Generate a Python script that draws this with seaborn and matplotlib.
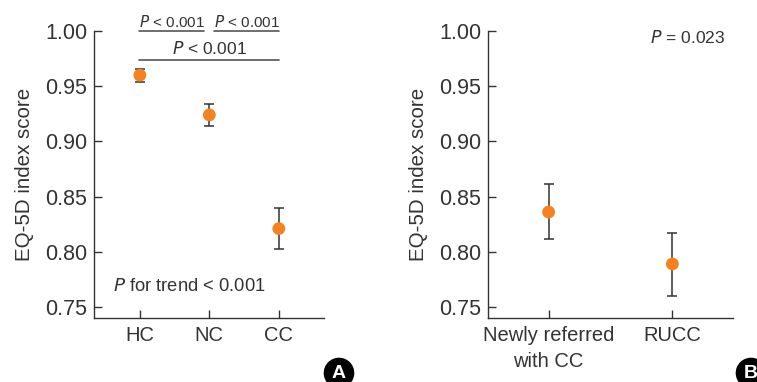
import numpy as np
import pandas as pd
import matplotlib
matplotlib.use("Agg")
import matplotlib.pyplot as plt
import seaborn as sns

# Panel A: EQ-5D by group
groups_a = ["HC", "NC", "CC"]
mean_a = [0.960, 0.924, 0.821]
low_a = [0.954, 0.914, 0.8025]
high_a = [0.966, 0.934, 0.840]

# Panel B: newly referred vs RUCC
groups_b = ["Newly referred\nwith CC", "RUCC"]
mean_b = [0.836, 0.789]
low_b = [0.812, 0.760]
high_b = [0.861, 0.817]

orange = "#F5821F"
dark = "#333333"

sns.set_style("ticks")
plt.rcParams["font.family"] = ["Liberation Sans", "DejaVu Sans"]

fig = plt.figure(figsize=(7.57, 3.82), dpi=100)
ax_a = fig.add_axes([94 / 757, 1 - 318 / 382, (324 - 94) / 757, (318 - 31) / 382])
ax_b = fig.add_axes([488 / 757, 1 - 318 / 382, (733 - 488) / 757, (318 - 31) / 382])


def draw_panel(ax, groups, means, lows, highs):
    df = pd.DataFrame({"group": groups, "mean": means, "low": lows, "high": highs})
    yerr = [df["mean"] - df["low"], df["high"] - df["mean"]]
    ax.errorbar(df["group"], df["mean"], yerr=yerr, fmt="none", ecolor=dark,
                elinewidth=1.1, capsize=3.5, capthick=1.1, zorder=2)
    sns.scatterplot(data=df, x="group", y="mean", ax=ax, color=orange, s=85,
                    edgecolor="none", zorder=3, legend=False)
    ax.set_ylim(0.74, 1.0)
    ax.set_yticks([0.75, 0.80, 0.85, 0.90, 0.95, 1.00])
    ax.set_yticklabels(["0.75", "0.80", "0.85", "0.90", "0.95", "1.00"])
    ax.set_xlabel("")
    ax.set_ylabel("EQ-5D index score", fontsize=14.8, color=dark, labelpad=8)
    ax.tick_params(axis="both", direction="in", length=5.5, width=1, colors=dark,
                   labelcolor=dark)
    ax.tick_params(axis="y", pad=5, labelsize=15.5)
    ax.tick_params(axis="x", pad=6, labelsize=14.5)
    sns.despine(ax=ax)
    for s in ["left", "bottom"]:
        ax.spines[s].set_color(dark)
        ax.spines[s].set_linewidth(1)


draw_panel(ax_a, groups_a, mean_a, low_a, high_a)
ax_a.set_xlim(-0.66, 2.65)
draw_panel(ax_b, groups_b, mean_b, low_b, high_b)
ax_b.set_xlim(-0.49, 1.49)
for lab in ax_b.get_xticklabels():
    lab.set_linespacing(1.45)

# significance brackets in panel A
line_c = "#555555"
ann = dict(color=dark, ha="center", clip_on=False)
ax_a.plot([-0.01, 0.93], [1.0, 1.0], color=line_c, lw=1.2, clip_on=False)
ax_a.plot([1.07, 2.0], [1.0, 1.0], color=line_c, lw=1.2, clip_on=False)
ax_a.plot([-0.01, 2.0], [0.9737, 0.9737], color=line_c, lw=1.2, clip_on=False)
ax_a.text(0.46, 1.004, r"$\it{P}$ < 0.001", fontsize=11, va="baseline", **ann)
ax_a.text(1.535, 1.004, r"$\it{P}$ < 0.001", fontsize=11, va="baseline", **ann)
ax_a.text(1.0, 0.979, r"$\it{P}$ < 0.001", fontsize=12.5, va="baseline", **ann)
ax_a.text(-0.39, 0.7648, r"$\it{P}$ for trend < 0.001", fontsize=13.2, color=dark,
          ha="left", va="baseline")
ax_b.text(1.43, 0.989, r"$\it{P}$ = 0.023", fontsize=12.6, color=dark,
          ha="right", va="baseline")

# panel letters
for x, letter in [(339 / 757, "A"), (751 / 757, "B")]:
    fig.text(x, 1 - 373 / 382, letter, fontsize=14, fontweight="bold", color="white",
             ha="center", va="center",
             bbox=dict(boxstyle="circle,pad=0.35", fc="black", ec="none"))

fig.savefig("out.png", dpi=100)
